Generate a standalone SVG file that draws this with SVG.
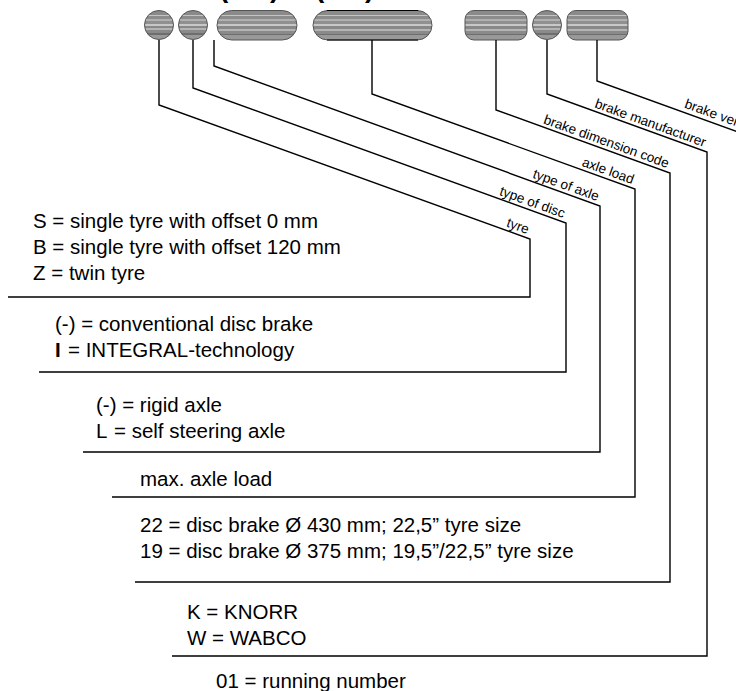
<svg xmlns="http://www.w3.org/2000/svg" width="736" height="691" viewBox="0 0 736 691">
<style>
.t{font-family:"Liberation Sans",Arial,sans-serif;font-size:20.5px;fill:#000}
.lb{font-family:"Liberation Sans",Arial,sans-serif;font-size:13.5px;fill:#000;text-anchor:end}
.par{font-family:"Liberation Sans",Arial,sans-serif;font-size:28px;font-weight:bold;fill:#000}
.ln{fill:none;stroke:#000;stroke-width:1.4}
.sh{fill:url(#stripes);stroke:#555;stroke-width:1}
</style>
<defs>
<linearGradient id="stripes" x1="0" y1="0" x2="0" y2="1">
<stop offset="0" stop-color="#8a8a8a"/>
<stop offset="0.14" stop-color="#8a8a8a"/>
<stop offset="0.14" stop-color="#c4c4c4"/>
<stop offset="0.2" stop-color="#c4c4c4"/>
<stop offset="0.2" stop-color="#8c8c8c"/>
<stop offset="0.3" stop-color="#8c8c8c"/>
<stop offset="0.3" stop-color="#b0b0b0"/>
<stop offset="0.36" stop-color="#b0b0b0"/>
<stop offset="0.36" stop-color="#909090"/>
<stop offset="0.46" stop-color="#909090"/>
<stop offset="0.46" stop-color="#c8c8c8"/>
<stop offset="0.52" stop-color="#c8c8c8"/>
<stop offset="0.52" stop-color="#888888"/>
<stop offset="0.62" stop-color="#888888"/>
<stop offset="0.62" stop-color="#b4b4b4"/>
<stop offset="0.68" stop-color="#b4b4b4"/>
<stop offset="0.68" stop-color="#8a8a8a"/>
<stop offset="0.78" stop-color="#8a8a8a"/>
<stop offset="0.78" stop-color="#6e6e6e"/>
<stop offset="0.84" stop-color="#6e6e6e"/>
<stop offset="0.84" stop-color="#999999"/>
<stop offset="1" stop-color="#999999"/>
</linearGradient>
</defs>
<rect width="736" height="691" fill="#fff"/>

<g id="code-brackets">
<text class="par" x="219" y="-3">(</text>
<text class="par" x="270" y="-3">)</text>
<text class="par" x="315" y="-3">(</text>
<text class="par" x="365" y="-3">)</text>
</g>

<g id="node-tyre"><circle class="sh" cx="159" cy="25" r="14.5"/></g>
<g id="node-disc"><circle class="sh" cx="193" cy="25" r="14.5"/></g>
<g id="node-axle"><rect class="sh" x="217" y="10.5" width="80" height="29.5" rx="14.75"/></g>
<g id="node-load"><rect class="sh" x="313" y="10.5" width="119" height="29.5" rx="14.75"/>
<line x1="327" y1="10.5" x2="418" y2="10.5" stroke="#000" stroke-width="1.2"/>
<line x1="327" y1="40" x2="418" y2="40" stroke="#000" stroke-width="1.2"/></g>
<g id="node-dimension"><rect class="sh" x="465" y="10.5" width="62" height="29.5" rx="9"/></g>
<g id="node-manufacturer"><circle class="sh" cx="547" cy="25" r="14.5"/></g>
<g id="node-version"><rect class="sh" x="567" y="10.5" width="61" height="29.5" rx="9"/></g>

<g id="connectors">
<polyline class="ln" points="159,40 159,105 530,239 530,297 8,297"/>
<polyline class="ln" points="193,40 193,88 566,223 566,372 39,372"/>
<polyline class="ln" points="214,40 214,66 600,206 600,452 83,452"/>
<polyline class="ln" points="372,40 372,94 635,189 635,497 112,497"/>
<polyline class="ln" points="496,40 496,110 670,173 670,582 135,582"/>
<polyline class="ln" points="547,40 547,94 707,152 707,656 172,656"/>
<polyline class="ln" points="597,40 597,81 760,140"/>
</g>

<g id="labels">
<text class="lb" transform="translate(527,234) rotate(19.85)">tyre</text>
<text class="lb" transform="translate(563,218) rotate(19.85)">type of disc</text>
<text class="lb" transform="translate(597,201) rotate(19.85)">type of axle</text>
<text class="lb" transform="translate(632,184) rotate(19.85)">axle load</text>
<text class="lb" transform="translate(667,168) rotate(19.85)">brake dimension code</text>
<text class="lb" transform="translate(704,147) rotate(19.85)">brake manufacturer</text>
<text class="lb" transform="translate(760,135) rotate(19.85)">brake version</text>
</g>

<g id="legend-tyre">
<text class="t" x="33" y="228">S = single tyre with offset 0 mm</text>
<text class="t" x="33" y="254">B = single tyre with offset 120 mm</text>
<text class="t" x="33" y="280">Z = twin tyre</text>
</g>
<g id="legend-disc">
<text class="t" x="55" y="331">(-) = conventional disc brake</text>
<text class="t" x="55" y="357"><tspan font-weight="bold">I</tspan><tspan x="68">= INTEGRAL-technology</tspan></text>
</g>
<g id="legend-axle">
<text class="t" x="96" y="412">(-) = rigid axle</text>
<text class="t" x="96" y="438">L<tspan x="114">= self steering axle</tspan></text>
</g>
<g id="legend-load">
<text class="t" x="140" y="486">max. axle load</text>
</g>
<g id="legend-dimension">
<text class="t" x="140" y="532">22 = disc brake Ø 430 mm; 22,5” tyre size</text>
<text class="t" x="140" y="558">19 = disc brake Ø 375 mm; 19,5”/22,5” tyre size</text>
</g>
<g id="legend-manufacturer">
<text class="t" x="187" y="619">K = KNORR</text>
<text class="t" x="187" y="645">W = WABCO</text>
</g>
<g id="legend-version">
<text class="t" x="216" y="688">01 = running number</text>
</g>
</svg>
